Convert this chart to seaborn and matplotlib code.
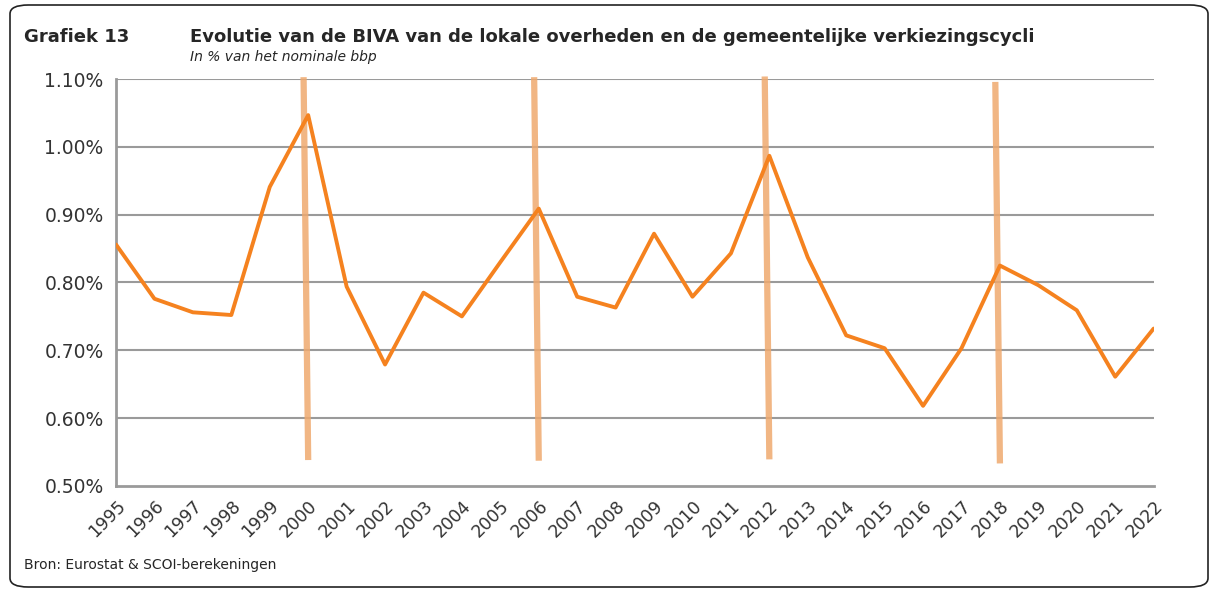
import numpy as np
import pandas as pd
import matplotlib.pyplot as plt
import seaborn as sns
from matplotlib.patches import FancyBboxPatch
from matplotlib.ticker import FuncFormatter

# data --->
years = list(range(1995, 2023))
biva = [0.856, 0.776, 0.756, 0.752, 0.941, 1.047, 0.794, 0.679, 0.785, 0.750,
        0.830, 0.909, 0.779, 0.763, 0.872, 0.779, 0.843, 0.987, 0.837, 0.722,
        0.703, 0.618, 0.703, 0.825, 0.796, 0.759, 0.661, 0.732]

# municipal elections (slightly tilted hand drawn markers) --->
election_years = [2000, 2006, 2012, 2018]
election_top = [1.103, 1.103, 1.104, 1.096]
election_bottom = [0.538, 0.537, 0.539, 0.533]

df = pd.DataFrame({"jaar": years, "biva": biva})

sns.set_style("white")
plt.rcParams['font.family'] = ['DejaVu Sans']

fig = plt.figure(figsize=(12.15, 5.91), dpi=100)
ax = fig.add_axes([0.0955, 0.178, 0.854, 0.688])

grey = "#9a9a9a"
for v in np.arange(0.6, 1.11, 0.1):
    ax.axhline(v, color=grey, lw=1.5, zorder=1)

for yr, top, bot in zip(election_years, election_top, election_bottom):
    ax.plot([yr - 0.12, yr], [top, bot], color="#EFA96E", lw=4.5, alpha=0.85,
            solid_capstyle="butt", zorder=2, clip_on=False)

sns.lineplot(data=df, x="jaar", y="biva", color="#F5821F", lw=2.8, ax=ax, zorder=3)

ax.set_xlim(1995, 2022)
ax.set_ylim(0.5, 1.1)
ax.set_yticks(np.arange(0.5, 1.11, 0.1))
ax.yaxis.set_major_formatter(FuncFormatter(lambda v, p: f"{v:.2f}%"))
ax.set_xticks(years)
ax.set_xticklabels([str(y) for y in years], rotation=45, ha="right",
                   rotation_mode="anchor")
ax.tick_params(axis="x", colors=grey, length=6, width=1.5, labelcolor="#333333",
               labelsize=12.5, pad=2)
ax.tick_params(axis="y", colors=grey, length=5, width=1.5, labelcolor="#333333",
               labelsize=13.5, pad=4)
for s in ["top", "right"]:
    ax.spines[s].set_visible(False)
for s in ["left", "bottom"]:
    ax.spines[s].set_color(grey)
    ax.spines[s].set_linewidth(2)
ax.set_xlabel("")
ax.set_ylabel("")

# titles --->
fig.text(24 / 1215, 1 - 37 / 591, "Grafiek 13", fontsize=13, fontweight="bold",
         va="center", ha="left")
fig.text(190 / 1215, 1 - 37 / 591,
         "Evolutie van de BIVA van de lokale overheden en de gemeentelijke verkiezingscycli",
         fontsize=13, fontweight="bold", va="center", ha="left")
fig.text(190 / 1215, 1 - 57 / 591, "In % van het nominale bbp", fontsize=10,
         style="italic", va="center", ha="left")
fig.text(24 / 1215, 1 - 565 / 591, "Bron: Eurostat & SCOI-berekeningen", fontsize=10,
         va="center", ha="left")

# rounded frame --->
frame = FancyBboxPatch((10 / 1215, 4 / 591), 1198 / 1215, 582 / 591,
                       boxstyle="round,pad=0,rounding_size=0.015",
                       transform=fig.transFigure, fill=False, ec="#222222", lw=1.2)
fig.patches.append(frame)

fig.savefig("out.png", dpi=100)
